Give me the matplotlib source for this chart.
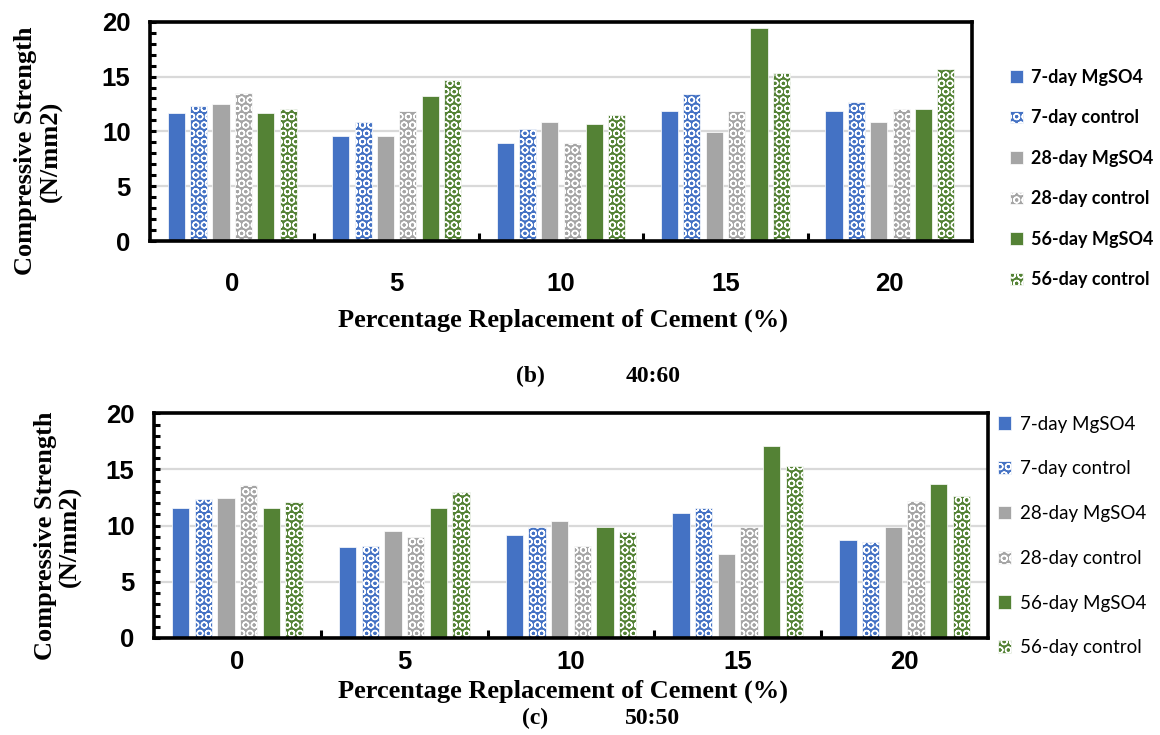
import numpy as np
import matplotlib
matplotlib.use("Agg")
import matplotlib.pyplot as plt
from matplotlib.ticker import MultipleLocator, FixedLocator, NullFormatter

# compressive strength (N/mm2) for each replacement level
replacement = ["0", "5", "10", "15", "20"]
series_names = ["7-day MgSO4", "7-day control", "28-day MgSO4",
                "28-day control", "56-day MgSO4", "56-day control"]

# (b) 40:60
b_7_mgso4 = [11.7, 9.6, 8.9, 11.9, 11.9]
b_7_control = [12.3, 10.9, 10.2, 13.4, 12.7]
b_28_mgso4 = [12.5, 9.6, 10.9, 9.9, 10.9]
b_28_control = [13.5, 11.9, 8.9, 11.9, 12.0]
b_56_mgso4 = [11.7, 13.2, 10.7, 19.4, 12.0]
b_56_control = [12.0, 14.7, 11.5, 15.3, 15.7]

# (c) 50:50
c_7_mgso4 = [11.6, 8.1, 9.2, 11.1, 8.7]
c_7_control = [12.4, 8.2, 9.9, 11.6, 8.5]
c_28_mgso4 = [12.5, 9.5, 10.4, 7.5, 9.9]
c_28_control = [13.6, 9.0, 8.2, 9.9, 12.2]
c_56_mgso4 = [11.6, 11.6, 9.9, 17.1, 13.7]
c_56_control = [12.1, 13.0, 9.4, 15.3, 12.6]

colors = ["#4472C4", "#4472C4", "#A5A5A5", "#A5A5A5", "#548235", "#548235"]
hatches = [None, "OO", None, "OO", None, "OO"]

plt.rcParams["hatch.linewidth"] = 1.0

fig = plt.figure(figsize=(11.6, 7.35), dpi=100)
serif = "Liberation Serif"
sans = "Liberation Sans"


def draw_panel(ax, data, tick_pad, legend_bold, legend_spacing, legend_anchor, legend_size):
    x = np.arange(len(replacement))
    width = 0.104
    pitch = 0.136
    handles = []
    for i, vals in enumerate(data):
        h = ax.bar(x + (i - 2.5) * pitch, vals, width, color=colors[i],
                   edgecolor="white", linewidth=0.5, hatch=hatches[i],
                   label=series_names[i], zorder=2)
        handles.append(h)
    ax.set_xlim(-0.5, len(replacement) - 0.5)
    ax.set_ylim(0, 20)
    ax.yaxis.set_major_locator(MultipleLocator(5))
    ax.yaxis.set_minor_locator(MultipleLocator(1))
    ax.set_xticks(x)
    ax.set_xticklabels(replacement)
    ax.xaxis.set_minor_locator(FixedLocator(np.arange(0.5, len(replacement) - 1, 1.0)))
    ax.xaxis.set_minor_formatter(NullFormatter())
    ax.tick_params(axis="x", which="major", length=0, pad=tick_pad)
    ax.tick_params(axis="x", which="minor", direction="in", length=6, width=2.2)
    ax.tick_params(axis="y", which="both", direction="in", length=4, width=2.2, pad=14)
    for lab in ax.get_xticklabels() + ax.get_yticklabels():
        lab.set_fontfamily(sans)
        lab.set_fontweight("bold")
        lab.set_fontsize(18.5)
    ax.set_axisbelow(True)
    ax.grid(axis="y", which="major", color="#D9D9D9", linewidth=1.6, zorder=0)
    for s in ax.spines.values():
        s.set_linewidth(2.6)
        s.set_color("black")
        s.set_zorder(3)
    leg = ax.legend(handles=handles, loc="upper left", bbox_to_anchor=legend_anchor,
                    frameon=False, borderaxespad=0, borderpad=0,
                    handlelength=0.7, handleheight=0.7,
                    handletextpad=0.45, labelspacing=legend_spacing,
                    prop={"family": "Lato", "size": legend_size,
                          "weight": "bold" if legend_bold else "normal"})
    return leg


ax_b = fig.add_axes([0.1293, 0.672, 0.7087, 0.2985])
draw_panel(ax_b, [b_7_mgso4, b_7_control, b_28_mgso4, b_28_control, b_56_mgso4, b_56_control],
           tick_pad=22, legend_bold=True, legend_spacing=1.3,
           legend_anchor=(1.046, 0.785), legend_size=13)

ax_c = fig.add_axes([0.1328, 0.132, 0.7189, 0.3057])
draw_panel(ax_c, [c_7_mgso4, c_7_control, c_28_mgso4, c_28_control, c_56_mgso4, c_56_control],
           tick_pad=9, legend_bold=False, legend_spacing=1.48,
           legend_anchor=(1.012, 0.99), legend_size=13.5)

# axis titles and panel captions
ylab = "Compressive Strength\n(N/mm2)"
fig.text(0.033, 1 - 151 / 735, ylab, rotation=90, ha="center", va="center",
         family=serif, weight="bold", fontsize=19, linespacing=1.1)
fig.text(0.050, 1 - 536 / 735, ylab, rotation=90, ha="center", va="center",
         family=serif, weight="bold", fontsize=19, linespacing=1.1)

xlab = "Percentage Replacement of Cement (%)"
fig.text(563 / 1160, 1 - 320 / 735, xlab, ha="center", va="center",
         family=serif, weight="bold", fontsize=19)
fig.text(563 / 1160, 1 - 691 / 735, xlab, ha="center", va="center",
         family=serif, weight="bold", fontsize=19)

fig.text(530 / 1160, 1 - 376 / 735, "(b)", ha="center", va="center",
         family=serif, weight="bold", fontsize=17)
fig.text(653 / 1160, 1 - 376 / 735, "40:60", ha="center", va="center",
         family=serif, weight="bold", fontsize=17)
fig.text(535 / 1160, 1 - 718 / 735, "(c)", ha="center", va="center",
         family=serif, weight="bold", fontsize=17)
fig.text(653 / 1160, 1 - 718 / 735, "50:50", ha="center", va="center",
         family=serif, weight="bold", fontsize=17)

fig.savefig("out.png", dpi=100)
